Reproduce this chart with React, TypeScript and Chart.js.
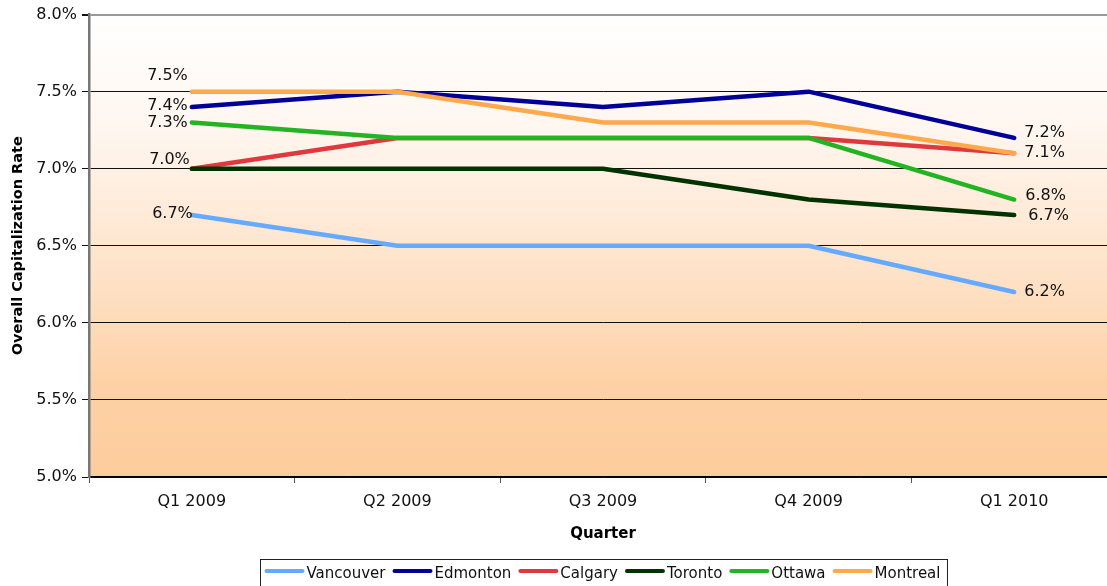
import React, { useEffect, useRef } from 'react';
import { Chart, registerables } from 'chart.js';

Chart.register(...registerables);

const quarters = ['Q1 2009', 'Q2 2009', 'Q3 2009', 'Q4 2009', 'Q1 2010'];
const cities = ['Vancouver', 'Edmonton', 'Calgary', 'Toronto', 'Ottawa', 'Montreal'];

const vancouver = [6.7, 6.5, 6.5, 6.5, 6.2];
const edmonton = [7.4, 7.5, 7.4, 7.5, 7.2];
const calgary = [7.0, 7.2, 7.2, 7.2, 7.1];
const toronto = [7.0, 7.0, 7.0, 6.8, 6.7];
const ottawa = [7.3, 7.2, 7.2, 7.2, 6.8];
const montreal = [7.5, 7.5, 7.3, 7.3, 7.1];

const seriesValues = [vancouver, edmonton, calgary, toronto, ottawa, montreal];
const colors = ['#66aaff', '#000099', '#e0383c', '#003300', '#22b422', '#ffa84c'];

const yMin = 5.0;
const yMax = 8.0;
const yStep = 0.5;

const yTitle = 'Overall Capitalization Rate';
const xTitle = 'Quarter';

// label offsets (dx, dy) for first / last point; null = no label
const firstLabelOffsets: ([number, number] | null)[] = [[1, -1], [-4, -1], [-2, -9], null, [-4, 0], [-4, -16]];
const lastLabelOffsets: ([number, number] | null)[] = [[10, 0], [10, -5], null, [14, 1], [11, -4], [10, 0]];

const FONT = '"DejaVu Sans", Verdana, sans-serif';

const bgPlugin = {
  id: 'bgGradient',
  beforeDraw(chart: any) {
    const { ctx, chartArea } = chart;
    if (!chartArea) return;
    const g = ctx.createLinearGradient(0, chartArea.top, 0, chartArea.bottom);
    g.addColorStop(0, '#ffffff');
    g.addColorStop(0.25, '#fff6ef');
    g.addColorStop(0.55, '#fee3c9');
    g.addColorStop(0.8, '#fdd1a6');
    g.addColorStop(1, '#fdcc9c');
    ctx.save();
    ctx.fillStyle = g;
    ctx.fillRect(chartArea.left, chartArea.top, chartArea.right - chartArea.left, chartArea.bottom - chartArea.top);
    ctx.restore();
  },
};

const labelPlugin = {
  id: 'endLabels',
  afterDatasetsDraw(chart: any) {
    const { ctx } = chart;
    ctx.save();
    ctx.font = `16px ${FONT}`;
    ctx.fillStyle = '#111';
    ctx.textBaseline = 'middle';
    chart.data.datasets.forEach((ds: any, i: number) => {
      const meta = chart.getDatasetMeta(i);
      const pts = meta.data;
      const f = firstLabelOffsets[i];
      if (f) {
        const p = pts[0];
        ctx.textAlign = 'right';
        ctx.fillText(ds.data[0].toFixed(1) + '%', p.x + f[0], p.y + f[1]);
      }
      const l = lastLabelOffsets[i];
      if (l) {
        const n = ds.data.length - 1;
        const p = pts[n];
        ctx.textAlign = 'left';
        ctx.fillText(ds.data[n].toFixed(1) + '%', p.x + l[0], p.y + l[1]);
      }
    });
    ctx.restore();
  },
};

const legendPlugin = {
  id: 'boxLegend',
  afterDraw(chart: any) {
    const { ctx, chartArea } = chart;
    ctx.save();
    ctx.font = `15px ${FONT}`;
    const lineW = 40;
    const gapLT = 2;
    const gapItem = 7;
    const padL = 4;
    const padR = 7;
    const widths = chart.data.datasets.map((ds: any) => ctx.measureText(ds.label).width);
    let total = padL + padR;
    widths.forEach((w: number, i: number) => {
      total += lineW + gapLT + w + (i < widths.length - 1 ? gapItem : 0);
    });
    const cx = (chartArea.left + chartArea.right) / 2;
    const left = Math.round(cx - total / 2) + 0.5;
    const top = 559.5;
    ctx.strokeStyle = '#222';
    ctx.lineWidth = 1;
    ctx.strokeRect(left, top, total, 40);
    let x = left + padL;
    const yLine = 571;
    const yText = 574;
    ctx.textBaseline = 'middle';
    ctx.textAlign = 'left';
    chart.data.datasets.forEach((ds: any, i: number) => {
      ctx.strokeStyle = ds.borderColor;
      ctx.lineWidth = 4;
      ctx.lineCap = 'round';
      ctx.beginPath();
      ctx.moveTo(x + 2, yLine);
      ctx.lineTo(x + lineW - 2, yLine);
      ctx.stroke();
      x += lineW + gapLT;
      ctx.fillStyle = '#111';
      ctx.fillText(ds.label, x, yText);
      x += widths[i] + gapItem;
    });
    ctx.restore();
  },
};

export default function App() {
  const canvasRef = useRef<HTMLCanvasElement | null>(null);

  useEffect(() => {
    const canvas = canvasRef.current;
    if (!canvas) return;
    const chart = new Chart(canvas, {
      type: 'line',
      data: {
        labels: quarters,
        datasets: cities.map((name, i) => ({
          label: name,
          data: seriesValues[i],
          borderColor: colors[i],
          backgroundColor: colors[i],
          borderWidth: 4.5,
          pointRadius: 0,
          pointHoverRadius: 0,
          tension: 0,
          fill: false,
          order: cities.length - 1 - i,
          borderCapStyle: 'round' as const,
          borderJoinStyle: 'round' as const,
        })),
      },
      options: {
        animation: false,
        responsive: false,
        devicePixelRatio: 1,
        layout: { padding: { top: 14, left: 0, right: 0, bottom: 43 } },
        plugins: {
          legend: { display: false },
          tooltip: { enabled: false },
        },
        scales: {
          x: {
            offset: true,
            grid: {
              offset: true,
              drawOnChartArea: false,
              drawTicks: true,
              tickLength: 6,
              color: '#555',
            },
            border: { color: '#000', width: 1.5 },
            ticks: {
              color: '#111',
              font: { family: FONT, size: 16 },
              padding: 9,
              maxRotation: 0,
            },
            title: {
              display: true,
              text: xTitle,
              color: '#000',
              font: { family: FONT, size: 15, weight: 'bold' },
              padding: 0,
            },
            afterFit(scale: any) {
              scale.height = 66;
            },
          },
          y: {
            min: yMin,
            max: yMax,
            ticks: {
              stepSize: yStep,
              color: '#111',
              font: { family: FONT, size: 16 },
              padding: 5,
              callback: (v: any) => Number(v).toFixed(1) + '%',
            },
            grid: {
              color: (c: any) => (c.tick && c.tick.value === yMax ? '#999' : '#111'),
              lineWidth: (c: any) => (c.tick && c.tick.value === yMax ? 2 : 1),
              tickColor: '#111',
              tickLength: 7,
            },
            border: { color: '#777', width: 2.5 },
            title: {
              display: true,
              text: yTitle,
              color: '#000',
              font: { family: FONT, size: 14.5, weight: 'bold' },
              padding: { top: 10, bottom: 0 },
            },
            afterFit(scale: any) {
              scale.width = 89;
            },
          },
        },
      },
      plugins: [bgPlugin, labelPlugin, legendPlugin],
    });
    return () => chart.destroy();
  }, []);

  return (
    <div
      style={{
        position: 'fixed',
        left: 0,
        top: 0,
        width: 1107,
        height: 586,
        overflow: 'hidden',
        background: '#fff',
      }}
    >
      <canvas ref={canvasRef} width={1117} height={586} style={{ display: 'block' }} />
    </div>
  );
}
